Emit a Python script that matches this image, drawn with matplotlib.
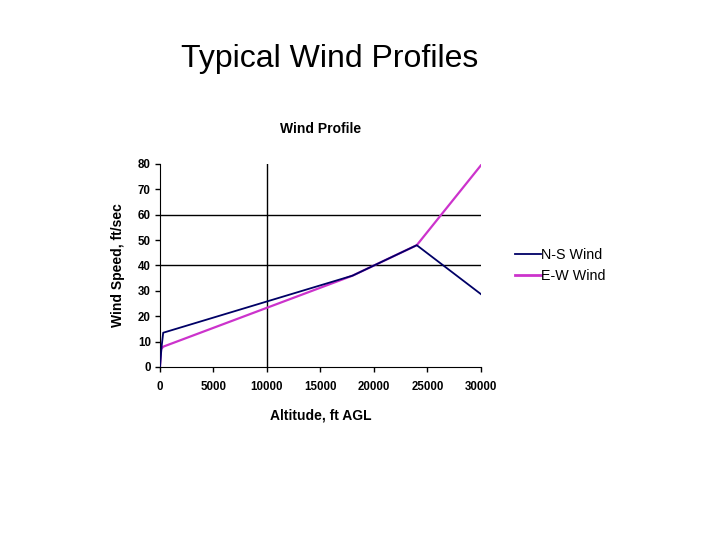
import matplotlib
matplotlib.use("Agg")
import matplotlib.pyplot as plt

plt.rcParams['font.family'] = ['Liberation Sans', 'DejaVu Sans']

altitude_ns = [0, 150, 300, 18000, 24000, 30000]
wind_ns = [0, 8, 13.5, 36, 48, 28.7]
altitude_ew = [0, 100, 300, 18000, 24000, 30000]
wind_ew = [0, 7, 8, 36, 48, 79.5]
x_ticks = [0, 5000, 10000, 15000, 20000, 25000, 30000]
y_ticks = [0, 10, 20, 30, 40, 50, 60, 70, 80]

fig = plt.figure(figsize=(7.2, 5.4), dpi=100)
fig.text(0.458, 0.875, "Typical Wind Profiles", fontsize=23, ha='center', va='baseline')

ax = fig.add_axes([0.2222, 0.3204, 0.4458, 0.3759])
ax.axhline(40, color='black', lw=1, zorder=1)
ax.axhline(60, color='black', lw=1, zorder=1)
ax.axvline(10000, color='black', lw=1, zorder=1)
ax.plot(altitude_ns, wind_ns, color='#000066', lw=1.3, label='N-S Wind', zorder=3)
ax.plot(altitude_ew, wind_ew, color='#CC33CC', lw=1.6, label='E-W Wind', zorder=2)

ax.set_xlim(0, 30000)
ax.set_ylim(0, 80)
ax.set_xticks(x_ticks)
ax.set_yticks(y_ticks)
for s in ['top', 'right']:
    ax.spines[s].set_visible(False)
ax.tick_params(direction='out', length=3.6, width=1, labelsize=8.3)
ax.tick_params(axis='x', pad=6.5)
ax.tick_params(axis='y', pad=3)
for lab in ax.get_xticklabels() + ax.get_yticklabels():
    lab.set_fontweight('bold')
ax.set_title("Wind Profile", fontsize=10, fontweight='bold', pad=22)
ax.set_xlabel("Altitude, ft AGL", fontsize=10, fontweight='bold', labelpad=11)
ax.set_ylabel("Wind Speed, ft/sec", fontsize=10, fontweight='bold', labelpad=9)

leg = ax.legend(loc='center left', bbox_to_anchor=(1.066, 0.50), frameon=False,
                fontsize=10.3, handlelength=1.8, handletextpad=0.05, labelspacing=0.55)
leg.get_lines()[1].set_linewidth(2)

fig.savefig("out.png", dpi=100, facecolor='white')
